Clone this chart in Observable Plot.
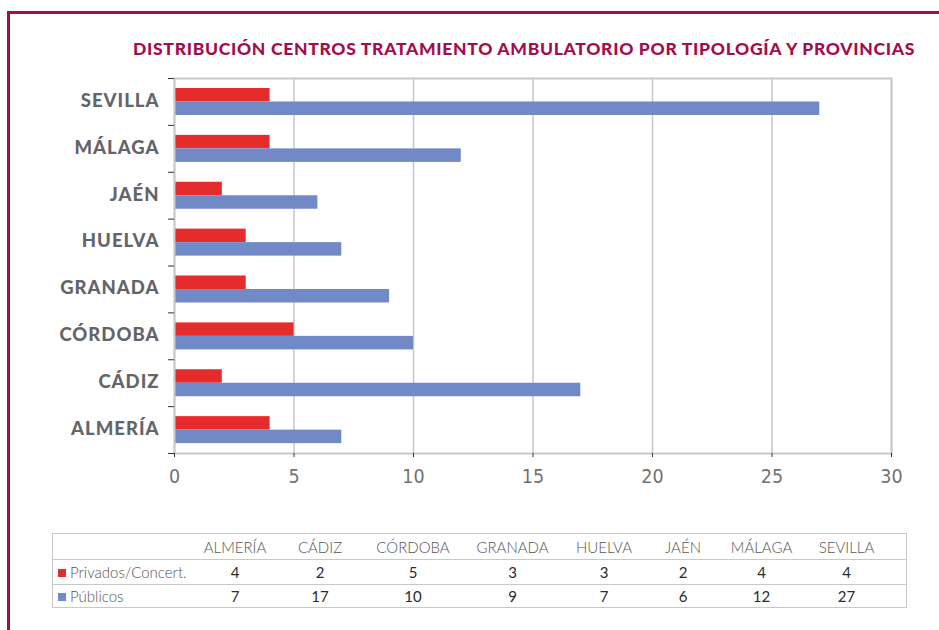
<!DOCTYPE html>
<html>
<head>
<meta charset="utf-8">
<script src="https://cdn.jsdelivr.net/npm/d3@7"></script>
<script src="https://cdn.jsdelivr.net/npm/@observablehq/plot@0.6"></script>
<style>
  html, body { margin: 0; padding: 0; background: #fff; }
  body { width: 939px; height: 630px; position: relative; overflow: hidden; font-family: Lato, "Open Sans", sans-serif; }
  #frame { position: absolute; left: 7px; top: 11px; width: 960px; height: 640px; border-top: 3px solid #a30d4c; border-left: 3px solid #a30d4c; }
  #title { position: absolute; left: 133px; top: 40px; white-space: nowrap; font-family: Lato, sans-serif; font-weight: 900; font-size: 17.5px; line-height: 18px; color: #a30d4c; }
  #chart { position: absolute; left: 0; top: 70px; line-height: 0; }
  #chart svg { display: block; }
  #table { position: absolute; left: 52px; top: 533px; border-collapse: collapse; border: 1.5px solid #c8c8c8; font-family: Lato, sans-serif; font-weight: 300; font-size: 15px; color: #555; }
  #table td { padding: 0; text-align: center; white-space: nowrap; }
  #table tr + tr td { border-top: 1.5px solid #c8c8c8; }
  #table td.lab { text-align: left; padding-left: 5px; }
  #table td.num { color: #2b2b2b; font-weight: 400; }
  .sw { display: inline-block; width: 8px; height: 8px; margin-right: 4px; vertical-align: 1px; }
</style>
</head>
<body>
<div id="frame"></div>
<div id="title"></div>
<div id="chart"></div>
<table id="table"></table>
<script>
const title = "DISTRIBUCIÓN CENTROS TRATAMIENTO AMBULATORIO POR TIPOLOGÍA Y PROVINCIAS";
const provinces = ["ALMERÍA", "CÁDIZ", "CÓRDOBA", "GRANADA", "HUELVA", "JAÉN", "MÁLAGA", "SEVILLA"];
const seriesNames = ["Privados/Concert.", "Públicos"];
const privados = [4, 2, 5, 3, 3, 2, 4, 4];
const publicos = [7, 17, 10, 9, 7, 6, 12, 27];
const xTicks = [0, 5, 10, 15, 20, 25, 30];
const colors = ["#e52b2b", "#718ac7"];

// Title, stretched to the reference's width
const titleEl = document.getElementById("title");
titleEl.textContent = title;
const titleWidth = 782;
const w0 = titleEl.getBoundingClientRect().width;
titleEl.style.letterSpacing = ((titleWidth - w0) / title.length) + "px";

const W = 939, H = 423, mt = 8, mb = 40, ml = 174, mr = 48;
const step = (H - mt - mb) / provinces.length;
const rows = provinces.map((p, i) => ({province: p, privados: privados[i], publicos: publicos[i]}));

const tickFont = {fontFamily: "'Liberation Sans Narrow', 'DejaVu Sans Condensed', sans-serif", fontSize: 19.5, fill: "#727272"};

const chart = Plot.plot({
  width: W, height: H,
  marginTop: mt, marginBottom: mb, marginLeft: ml, marginRight: mr,
  style: {background: "transparent", overflow: "visible"},
  x: {domain: [0, 30]},
  y: {domain: provinces.slice().reverse(), padding: 0, round: false},
  marks: [
    Plot.gridX(xTicks, {stroke: "#c6c6c6", strokeOpacity: 1, strokeWidth: 1.5}),
    Plot.barX(rows, {x: "privados", y: "province", fill: colors[0], insetTop: 10, insetBottom: step - 23.5}),
    Plot.barX(rows, {x: "publicos", y: "province", fill: colors[1], insetTop: 23.5, insetBottom: step - 37}),
    Plot.frame({stroke: "#c8c8c8", strokeWidth: 2}),
    Plot.axisX({ticks: xTicks, tickSize: 4, stroke: "#333", tickPadding: 12, tickFormat: d3.format("d"), label: null, ...tickFont}),
    Plot.axisY({tickSize: 0, tickPadding: 15, label: null, fontFamily: "Lato, sans-serif", fontWeight: 900, fontSize: 18.5, fill: "#646569", dy: -1}),
    Plot.axisY({tickSize: 6, tickFormat: () => "", dy: step / 2, stroke: "#333", label: null}),
    Plot.axisY({ticks: [provinces[provinces.length - 1]], tickSize: 6, tickFormat: () => "", dy: -step / 2, stroke: "#333", label: null})
  ]
});
document.getElementById("chart").appendChild(chart);
chart.querySelectorAll('[aria-label="y-axis tick label"] text').forEach(t => t.setAttribute("letter-spacing", "1"));

// Data table below the chart
const colWidths = [141, 83, 87, 99, 100, 83, 75, 82, 88, 16];
const rowHeights = [26, 25, 23];
const table = document.getElementById("table");
const cg = document.createElement("colgroup");
colWidths.forEach(w => { const c = document.createElement("col"); c.style.width = w + "px"; cg.appendChild(c); });
table.appendChild(cg);
table.style.width = d3.sum(colWidths) + "px";
table.style.tableLayout = "fixed";
const hr = table.insertRow();
hr.style.height = rowHeights[0] + "px";
hr.insertCell().textContent = "";
provinces.forEach(p => { const c = hr.insertCell(); c.textContent = p; });
hr.insertCell();
[privados, publicos].forEach((vals, si) => {
  const r = table.insertRow();
  r.style.height = rowHeights[si + 1] + "px";
  const lc = r.insertCell();
  lc.className = "lab";
  lc.innerHTML = `<span class="sw" style="background:${colors[si]}"></span>`;
  lc.appendChild(document.createTextNode(seriesNames[si]));
  vals.forEach(v => { const c = r.insertCell(); c.className = "num"; c.textContent = v; });
  r.insertCell();
});
</script>
</body>
</html>
